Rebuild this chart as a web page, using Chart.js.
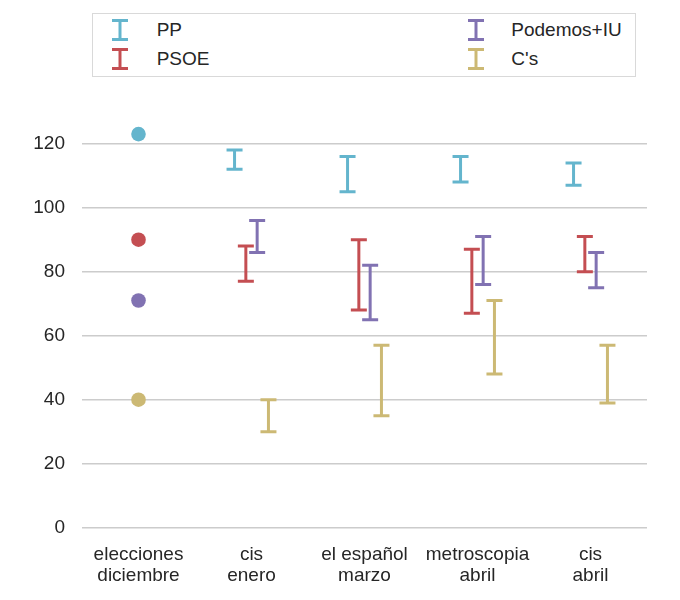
<!DOCTYPE html>
<html>
<head>
<meta charset="utf-8">
<script src="https://cdn.jsdelivr.net/npm/chart.js@4"></script>
<style>
  body { margin: 0; background: #fff; font-family: "Liberation Sans", Arial, sans-serif; color: #262626; }
  #wrap { position: relative; width: 680px; height: 600px; }
  #chart { position: absolute; left: 0; top: 0; }
  #legend { position: absolute; left: 92px; top: 13px; width: 544px; height: 64px; box-sizing: border-box;
            border: 1px solid #d9d9d9; background: #fff; }
  .item { position: absolute; height: 22px; }
  .item svg { position: absolute; top: 0; }
  .item span { position: absolute; font-size: 19px; line-height: 22px; white-space: nowrap; }
</style>
</head>
<body>
<div id="wrap">
  <canvas id="chart" width="680" height="600"></canvas>
  <div id="legend"></div>
</div>
<script>
// ----------- Data -----------
const categories = [['elecciones', 'diciembre'], ['cis', 'enero'], ['el español', 'marzo'], ['metroscopia', 'abril'], ['cis', 'abril']];
const parties = ['PP', 'PSOE', 'Podemos+IU', "C's"];
// december election results (seats), same order as parties
const elections = [123, 90, 71, 40];
// poll ranges for cis enero, el español marzo, metroscopia abril, cis abril
const ppLow = [112, 105, 108, 107];
const ppHigh = [118, 116, 116, 114];
const psoeLow = [77, 68, 67, 80];
const psoeHigh = [88, 90, 87, 91];
const podemosLow = [86, 65, 76, 75];
const podemosHigh = [96, 82, 91, 86];
const csLow = [30, 35, 48, 39];
const csHigh = [40, 57, 71, 57];
const yTicks = [0, 20, 40, 60, 80, 100, 120];

// ----------- Style -----------
const colors = ['#64b5cd', '#c44e52', '#8172b2', '#ccb974'];
const dodge = [-0.15, -0.05, 0.05, 0.15];
const lows = [ppLow, psoeLow, podemosLow, csLow];
const highs = [ppHigh, psoeHigh, podemosHigh, csHigh];
const font = { family: '"Liberation Sans", Arial, sans-serif', size: 19 };

// ----------- Legend (two columns) -----------
const legend = document.getElementById('legend');
const legendSpots = [[19, 5], [19, 34], [375, 5], [375, 34]];
parties.forEach((name, i) => {
    const item = document.createElement('div');
    item.className = 'item';
    item.style.left = legendSpots[i][0] + 'px';
    item.style.top = legendSpots[i][1] + 'px';
    item.innerHTML =
        '<svg width="16" height="22"><g stroke="' + colors[i] + '" stroke-width="3" fill="none">' +
        '<line x1="0" y1="1.5" x2="16" y2="1.5"/><line x1="8" y1="1.5" x2="8" y2="20.5"/>' +
        '<line x1="0" y1="20.5" x2="16" y2="20.5"/></g></svg>' +
        '<span style="left:' + (i < 2 ? 44.7 : 43.3) + 'px;top:0">' + name + '</span>';
    legend.appendChild(item);
});

// ----------- Datasets -----------
const datasets = [];
parties.forEach((name, i) => {
    const pts = [];
    lows[i].forEach((lo, j) => {
        const x = j + 1 + dodge[i];
        pts.push({ x: x, y: lo }, { x: x, y: highs[i][j] }, { x: x, y: null });
    });
    datasets.push({
        type: 'line',
        label: name,
        data: pts,
        borderColor: colors[i],
        borderWidth: 3,
        borderCapStyle: 'butt',
        spanGaps: false,
        pointStyle: 'line',
        pointRadius: 8,
        pointHoverRadius: 8,
        pointBorderWidth: 3,
        pointBorderColor: colors[i],
        fill: false
    });
});
datasets.push({
    type: 'scatter',
    label: 'elecciones',
    data: elections.map(v => ({ x: 0, y: v })),
    pointRadius: 7.3,
    pointBorderWidth: 0,
    pointBackgroundColor: colors,
    borderColor: colors
});

new Chart(document.getElementById('chart'), {
    type: 'scatter',
    data: { datasets: datasets },
    options: {
        responsive: false,
        animation: false,
        layout: { padding: { left: 0, right: 33, top: 111.7, bottom: 12.3 } },
        plugins: { legend: { display: false }, tooltip: { enabled: false } },
        scales: {
            x: {
                type: 'linear',
                min: -0.5,
                max: 4.5,
                grid: { display: false, drawTicks: false },
                border: { display: false },
                afterBuildTicks: s => { s.ticks = categories.map((c, i) => ({ value: i })); },
                afterFit: s => { s.height = 60; s.paddingLeft = 0; s.paddingRight = 0; },
                ticks: {
                    autoSkip: false,
                    maxRotation: 0,
                    padding: 16,
                    color: '#262626',
                    font: Object.assign({ lineHeight: 1.13 }, font),
                    callback: v => categories[v]
                }
            },
            y: {
                min: 0,
                max: 130,
                grid: { color: '#cccccc', lineWidth: 1.6, drawTicks: false },
                border: { display: false },
                afterBuildTicks: s => { s.ticks = yTicks.map(v => ({ value: v })); },
                afterFit: s => { s.width = 82; s.paddingTop = 0; s.paddingBottom = 0; },
                ticks: { padding: 17, color: '#262626', font: font }
            }
        }
    }
});
</script>
</body>
</html>
